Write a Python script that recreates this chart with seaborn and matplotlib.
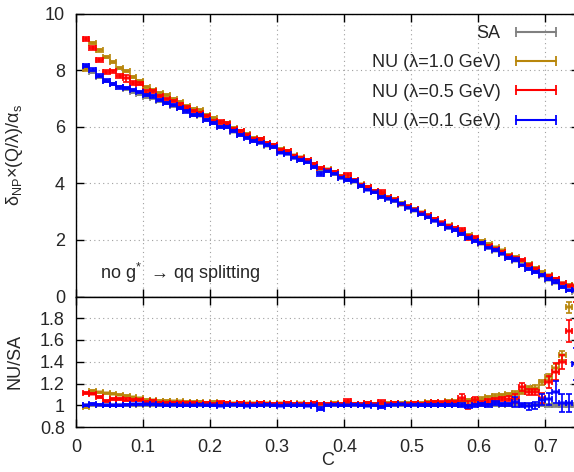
import numpy as np
import pandas as pd
import seaborn as sns
import matplotlib.pyplot as plt
from matplotlib.lines import Line2D
from matplotlib.ticker import FuncFormatter

# C bins, 0.01 wide, from 0.01 to 0.75
c_lo = np.round(np.arange(0.01, 0.745, 0.01), 3)
c_mid = c_lo + 0.005

# SA prediction, delta_NP x (Q/lambda)/alpha_s
sa = [8.17, 7.94, 7.78, 7.64, 7.52, 7.40, 7.35, 7.23, 7.17, 7.07,
      7.01, 6.92, 6.85, 6.75, 6.66, 6.55, 6.43, 6.40, 6.26, 6.13,
      6.02, 6.00, 5.84, 5.73, 5.63, 5.51, 5.45, 5.34, 5.30, 5.12,
      5.06, 4.92, 4.83, 4.77, 4.59, 4.47, 4.43, 4.33, 4.21, 4.12,
      4.07, 3.91, 3.80, 3.69, 3.58, 3.46, 3.37, 3.25, 3.14, 3.03,
      2.91, 2.80, 2.68, 2.56, 2.44, 2.35, 2.21, 2.09, 1.97, 1.87,
      1.73, 1.61, 1.50, 1.35, 1.26, 1.11, 0.99, 0.87, 0.73, 0.60,
      0.47, 0.33, 0.22, 0.17]
sa_err = [0.004, 0.004, 0.004, 0.004, 0.004, 0.004, 0.004, 0.004, 0.004, 0.004,
          0.004, 0.004, 0.004, 0.004, 0.004, 0.004, 0.004, 0.004, 0.004, 0.004,
          0.004, 0.004, 0.004, 0.004, 0.004, 0.004, 0.004, 0.004, 0.004, 0.004,
          0.004, 0.004, 0.004, 0.004, 0.004, 0.004, 0.004, 0.004, 0.004, 0.004,
          0.004, 0.004, 0.004, 0.005, 0.005, 0.005, 0.005, 0.005, 0.005, 0.005,
          0.005, 0.005, 0.005, 0.005, 0.006, 0.006, 0.006, 0.006, 0.006, 0.007,
          0.007, 0.007, 0.008, 0.008, 0.009, 0.009, 0.010, 0.010, 0.011, 0.012,
          0.013, 0.015, 0.018, 0.020]

# NU/SA ratios (bottom panel)
ratio_10 = [0.985, 1.13, 1.12, 1.11, 1.105, 1.095, 1.085, 1.075, 1.065, 1.05,
            1.045, 1.04, 1.04, 1.035, 1.035, 1.03, 1.03, 1.03, 1.025, 1.03,
            1.025, 1.025, 1.02, 1.025, 1.02, 1.02, 1.025, 1.02, 1.015, 1.02,
            1.02, 1.015, 1.02, 1.015, 1.02, 1.015, 1.015, 1.02, 1.015, 1.02,
            1.015, 1.015, 1.02, 1.015, 1.02, 1.02, 1.025, 1.02, 1.02, 1.025,
            1.025, 1.03, 1.03, 1.025, 1.035, 1.035, 1.04, 1.045, 1.05, 1.06,
            1.075, 1.085, 1.09, 1.10, 1.11, 1.12, 1.16, 1.16, 1.21, 1.26,
            1.34, 1.46, 1.90, 2.30]
err_10 = [0.006, 0.006, 0.006, 0.006, 0.005, 0.005, 0.005, 0.005, 0.005, 0.005,
          0.005, 0.005, 0.005, 0.005, 0.005, 0.005, 0.005, 0.005, 0.005, 0.005,
          0.005, 0.005, 0.005, 0.005, 0.005, 0.005, 0.005, 0.005, 0.005, 0.005,
          0.005, 0.005, 0.005, 0.005, 0.006, 0.006, 0.006, 0.006, 0.006, 0.006,
          0.006, 0.006, 0.006, 0.006, 0.006, 0.007, 0.007, 0.007, 0.007, 0.007,
          0.007, 0.008, 0.008, 0.008, 0.009, 0.010, 0.010, 0.011, 0.012, 0.012,
          0.013, 0.014, 0.015, 0.016, 0.018, 0.020, 0.020, 0.022, 0.025, 0.030,
          0.035, 0.040, 0.050, 0.080]

ratio_05 = [1.115, 1.107, 1.077, 1.04, 1.06, 1.055, 1.05, 1.045, 1.05, 1.028,
            1.037, 1.025, 1.02, 1.025, 1.02, 1.02, 1.02, 1.015, 1.02, 1.015,
            1.025, 1.02, 1.015, 1.02, 1.015, 1.01, 1.02, 1.015, 1.01, 1.015,
            1.02, 1.01, 1.015, 1.01, 1.02, 1.015, 1.01, 1.015, 1.01, 1.04,
            1.015, 1.01, 1.02, 1.01, 1.03, 1.015, 1.02, 1.01, 1.015, 1.02,
            1.015, 1.025, 1.03, 1.025, 1.03, 1.03, 1.07, 1.00, 1.05, 1.02,
            1.035, 1.05, 1.06, 1.06, 1.06, 1.17, 1.12, 1.12, 1.065, 1.21,
            1.31, 1.40, 1.68, 2.10]
err_05 = [0.008, 0.008, 0.008, 0.008, 0.008, 0.008, 0.015, 0.008, 0.008, 0.008,
          0.007, 0.007, 0.007, 0.007, 0.007, 0.007, 0.007, 0.007, 0.007, 0.007,
          0.010, 0.007, 0.007, 0.007, 0.007, 0.007, 0.007, 0.007, 0.007, 0.007,
          0.007, 0.007, 0.007, 0.007, 0.007, 0.007, 0.007, 0.007, 0.007, 0.020,
          0.007, 0.007, 0.007, 0.007, 0.020, 0.008, 0.008, 0.008, 0.008, 0.008,
          0.009, 0.009, 0.010, 0.010, 0.012, 0.012, 0.035, 0.035, 0.030, 0.015,
          0.018, 0.020, 0.020, 0.025, 0.040, 0.035, 0.030, 0.030, 0.045, 0.055,
          0.080, 0.065, 0.100, 0.150]

ratio_01 = [1.0, 1.012, 1.005, 1.0, 1.0, 1.0, 1.005, 1.01, 1.01, 1.01,
            1.01, 1.005, 1.0, 1.005, 1.0, 1.0, 1.0, 1.005, 1.0, 1.0,
            0.995, 1.0, 1.005, 1.0, 0.995, 1.0, 1.0, 1.005, 1.0, 0.995,
            1.0, 1.0, 1.0, 0.995, 1.0, 0.97, 1.0, 1.005, 1.0, 1.0,
            1.005, 1.0, 0.995, 1.0, 0.985, 1.0, 1.005, 1.01, 1.0, 1.005,
            1.0, 1.0, 1.0, 1.0, 1.0, 1.0, 1.0, 0.99, 1.0, 1.01,
            1.0, 1.02, 1.01, 1.01, 1.03, 1.0, 0.99, 1.0, 1.05, 1.055,
            1.12, 1.02, 1.02, 1.38]
err_01 = [0.006, 0.006, 0.006, 0.006, 0.006, 0.006, 0.006, 0.006, 0.006, 0.006,
          0.006, 0.006, 0.006, 0.006, 0.006, 0.006, 0.006, 0.006, 0.006, 0.006,
          0.006, 0.006, 0.006, 0.006, 0.006, 0.006, 0.006, 0.006, 0.006, 0.006,
          0.006, 0.006, 0.006, 0.006, 0.006, 0.012, 0.006, 0.006, 0.006, 0.006,
          0.006, 0.006, 0.006, 0.006, 0.010, 0.006, 0.006, 0.006, 0.006, 0.006,
          0.007, 0.007, 0.008, 0.008, 0.010, 0.010, 0.020, 0.012, 0.012, 0.013,
          0.015, 0.018, 0.015, 0.015, 0.045, 0.020, 0.030, 0.030, 0.050, 0.055,
          0.100, 0.080, 0.080, 0.150]

labels = ['SA', 'NU (λ=1.0 GeV)', 'NU (λ=0.5 GeV)', 'NU (λ=0.1 GeV)']
colors = ['#808080', '#b8860b', '#ff0000', '#0000ff']
ratios = [np.ones(len(sa)), ratio_10, ratio_05, ratio_01]
errors = [sa_err, err_10, err_05, err_01]

rows = []
for lab, r, e in zip(labels, ratios, errors):
    rows.append(pd.DataFrame({'C': c_mid, 'series': lab, 'ratio': r, 'rerr': e,
                              'value': np.array(sa) * np.array(r),
                              'err': np.array(sa) * np.array(e)}))
df = pd.concat(rows, ignore_index=True)

sns.set_theme(style='ticks')
plt.rcParams['font.family'] = ['Liberation Sans', 'DejaVu Sans']
plt.rcParams['mathtext.fontset'] = 'custom'
plt.rcParams['mathtext.rm'] = 'Liberation Sans'
plt.rcParams['mathtext.it'] = 'Liberation Sans:italic'
plt.rcParams['axes.linewidth'] = 1.0
FS = 13

W, H = 574, 472
fig = plt.figure(figsize=(W / 100, H / 100), dpi=100)
left, right = 76 / W, 579 / W
ax_top = fig.add_axes([left, (H - 296.5) / H, right - left, (296.5 - 14) / H])
ax_bot = fig.add_axes([left, (H - 427) / H, right - left, (427 - 296.5) / H])

for i, (lab, col) in enumerate(zip(labels, colors)):
    sub = df[df['series'] == lab]
    for ax, ycol, ecol in [(ax_top, 'value', 'err'), (ax_bot, 'ratio', 'rerr')]:
        sns.scatterplot(data=sub, x='C', y=ycol, marker='_', s=28, color=col,
                        linewidth=2.6, alpha=0.6, ax=ax, legend=False, zorder=3 + 2 * i)
        ax.errorbar(sub['C'], sub[ycol], xerr=0.005, yerr=sub[ecol], fmt='none',
                    ecolor=col, elinewidth=1.2, capsize=2.2, capthick=1.2, zorder=4 + 2 * i)

fmt = FuncFormatter(lambda v, p: f'{v:g}')
for ax in (ax_top, ax_bot):
    ax.set_xlim(0, 0.75)
    ax.set_xticks([0, 0.1, 0.2, 0.3, 0.4, 0.5, 0.6, 0.7])
    ax.grid(True, linestyle=(0, (1, 3)), color='#a0a0a0', linewidth=0.8)
    ax.tick_params(direction='in', top=True, right=True, length=6, width=1,
                   labelsize=FS, color='black', pad=8)
    ax.xaxis.set_major_formatter(fmt)
    ax.yaxis.set_major_formatter(fmt)
    ax.set_ylabel('')
    for sp in ax.spines.values():
        sp.set_color('black')

ax_top.set_ylim(0, 10)
ax_top.set_yticks([0, 2, 4, 6, 8, 10])
ax_top.tick_params(labelbottom=False)
ax_top.set_xlabel('')

ax_bot.set_ylim(0.8, 2.0)
ax_bot.set_yticks([0.8, 1.0, 1.2, 1.4, 1.6, 1.8])
ax_bot.tick_params(axis='x', pad=9)
ax_bot.set_xlabel('C', fontsize=FS, labelpad=-3)

ax_top.text(0.048, 0.062, r'no g$^{*}$  → qq splitting', transform=ax_top.transAxes,
            fontsize=FS, ha='left', va='baseline')

fig.text(15 / W, 1 - 155 / H, r'δ$_{\rm NP}$×(Q/λ)/α$_{\rm s}$', rotation=90,
         ha='center', va='center', fontsize=FS)
fig.text(15 / W, 1 - 361 / H, 'NU/SA', rotation=90, ha='center', va='center', fontsize=FS)

handles = [Line2D([0], [0], color=c, lw=1.5, marker='|', markersize=7, markeredgewidth=1.3)
           for c in colors]
fig.legend(handles, labels, loc='upper right', bbox_to_anchor=(561 / W, 1 - 25 / H),
           frameon=False, markerfirst=False, numpoints=2, handlelength=2.8,
           handletextpad=0.55, labelspacing=0.68, borderpad=0, borderaxespad=0,
           fontsize=FS)

fig.savefig('out.png', dpi=100)
